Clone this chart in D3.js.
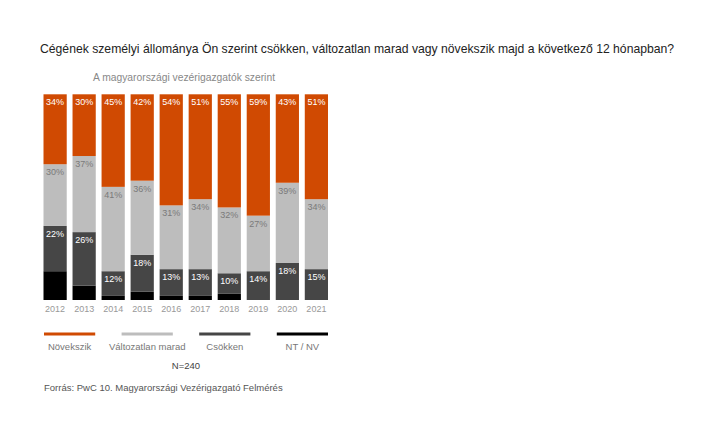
<!DOCTYPE html>
<html><head><meta charset="utf-8">
<script src="https://cdn.jsdelivr.net/npm/d3@7"></script>
<style>body{margin:0;background:#fff}svg{display:block}text{font-family:"Liberation Sans",Arial,sans-serif}</style>
</head><body>
<svg id="c" width="720" height="432"></svg>
<script>
const years = ["2012","2013","2014","2015","2016","2017","2018","2019","2020","2021"];
const novekszik = [34,30,45,42,54,51,55,59,43,51];
const valtozatlan = [30,37,41,36,31,34,32,27,39,34];
const csokken = [22,26,12,18,13,13,10,14,18,15];
const ntnv = [14,7,2,4,2,2,3,0,0,0];
const seriesNames = ["Növekszik","Változatlan marad","Csökken","NT / NV"];
const colors = ["#d04a02","#bdbdbd","#464646","#000000"];
const labelColors = ["#ffffff","#7a7a7a","#ffffff",null];

const svg = d3.select("#c");
const x = d3.scaleBand().domain(years).range([43.5,328]).paddingInner(0.2).paddingOuter(0);
const y = d3.scaleLinear().domain([0,100]).range([300,94.3]);

const stackOrder = [ntnv, csokken, valtozatlan, novekszik];
const stackIdx = [3,2,1,0];
const segs = [];
years.forEach((yr,i)=>{
  let base = 0;
  stackOrder.forEach((arr,k)=>{
    const v = arr[i];
    segs.push({yr, s: stackIdx[k], y0: base, y1: base+v, v});
    base += v;
  });
});

svg.append("text").attr("x",40).attr("y",53).attr("font-size",12.2).attr("fill","#222")
  .text("Cégének személyi állománya Ön szerint csökken, változatlan marad vagy növekszik majd a következő 12 hónapban?");
svg.append("text").attr("x",93).attr("y",80.5).attr("font-size",10.3).attr("fill","#888")
  .text("A magyarországi vezérigazgatók szerint");

const g = svg.append("g");
g.selectAll("rect").data(segs.filter(d=>d.v>0)).join("rect")
  .attr("x",d=>x(d.yr)).attr("width",x.bandwidth())
  .attr("y",d=>y(d.y1)).attr("height",d=>y(d.y0)-y(d.y1))
  .attr("fill",d=>colors[d.s]);

g.selectAll("text.lab").data(segs.filter(d=>d.s<3 && d.v>0)).join("text").attr("class","lab")
  .attr("x",d=>x(d.yr)+x.bandwidth()/2).attr("y",d=>y(d.y1)+11)
  .attr("text-anchor","middle").attr("font-size",9).attr("fill",d=>labelColors[d.s])
  .text(d=>d.v+"%");

const xAxis = svg.append("g").attr("transform","translate(0,300)")
  .call(d3.axisBottom(x).tickSize(0).tickPadding(6));
xAxis.select(".domain").remove();
xAxis.selectAll("text").attr("font-size",9).attr("fill","#999").attr("font-family","Liberation Sans, Arial, sans-serif");

const lx = d3.scaleBand().domain(seriesNames).range([44,328]).paddingInner(0.34);
const lg = svg.append("g");
seriesNames.forEach((n,i)=>{
  lg.append("line").attr("x1",lx(n)).attr("x2",lx(n)+lx.bandwidth()).attr("y1",334).attr("y2",334)
    .attr("stroke",colors[i]).attr("stroke-width",3);
  lg.append("text").attr("x",lx(n)+lx.bandwidth()/2).attr("y",349.5).attr("text-anchor","middle")
    .attr("font-size",9.5).attr("fill","#777").text(n);
});
svg.append("text").attr("x",186).attr("y",368.5).attr("text-anchor","middle").attr("font-size",9.5).attr("fill","#444").text("N=240");
svg.append("text").attr("x",44).attr("y",390.5).attr("font-size",9.5).attr("fill","#555")
  .text("Forrás: PwC 10. Magyarországi Vezérigazgató Felmérés");
</script>
</body></html>
